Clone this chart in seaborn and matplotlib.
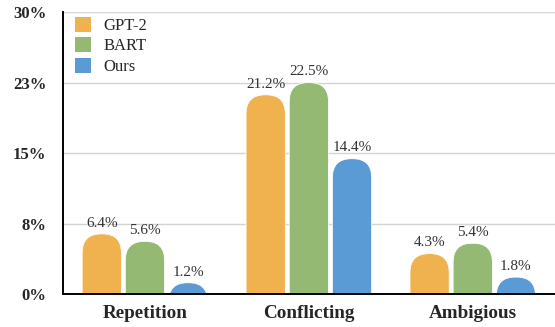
import matplotlib
matplotlib.use("Agg")
import matplotlib.pyplot as plt
from matplotlib.patches import FancyBboxPatch, Patch
import seaborn as sns
import pandas as pd

categories = ["Repetition", "Conflicting", "Ambigious"]
models = ["GPT-2", "BART", "Ours"]
gpt2 = [6.4, 21.2, 4.3]
bart = [5.6, 22.5, 5.4]
ours = [1.2, 14.4, 1.8]
ytick_values = [0, 7.5, 15, 22.5, 30]
ytick_labels = ["0%", "8%", "15%", "23%", "30%"]
colors = ["#F0B24F", "#93B973", "#5A9BD5"]

rows = []
for model, vals in zip(models, [gpt2, bart, ours]):
    for cat, v in zip(categories, vals):
        rows.append({"category": cat, "model": model, "value": v})
df = pd.DataFrame(rows)

sns.set_style("white")
plt.rcParams["font.family"] = ["Liberation Serif", "DejaVu Serif"]

fig = plt.figure(figsize=(5.55, 3.27), dpi=100)
ax = fig.add_axes([0.1135, 0.1009, 0.886, 0.862])

sns.barplot(data=df, x="category", y="value", hue="model", order=categories,
            hue_order=models, palette=colors, saturation=1, width=0.79,
            gap=0.09, errorbar=None, legend=False, ax=ax)

ax.set_xlim(-0.5, 2.5)
ax.set_ylim(0, 30)
ax.set_yticks(ytick_values)
ax.set_yticklabels(ytick_labels)
ax.yaxis.grid(True, color="#d4d4d4", linewidth=1.0)
ax.set_axisbelow(True)
for side in ["top", "right"]:
    ax.spines[side].set_visible(False)
for side in ["left", "bottom"]:
    ax.spines[side].set_color("black")
    ax.spines[side].set_linewidth(1.4)
ax.tick_params(axis="y", length=0, pad=12, labelsize=12)
ax.tick_params(axis="x", length=0, pad=8, labelsize=13.8)
for lab in ax.get_yticklabels() + ax.get_xticklabels():
    lab.set_fontweight("bold")
ax.set_xlabel("")
ax.set_ylabel("")

# Replace the square bars with round-topped ones
fig.canvas.draw()
bbox = ax.get_window_extent()
x_per_px = 3.0 / bbox.width
y_per_px = 30.0 / bbox.height
radius_px = 19
r_x = radius_px * x_per_px
aspect = y_per_px / x_per_px

for patch in list(ax.patches):
    x0 = patch.get_x()
    w = patch.get_width()
    h = patch.get_height()
    fc = patch.get_facecolor()
    patch.set_visible(False)
    extra = 5.0
    box = FancyBboxPatch((x0, -extra), w, h + extra,
                         boxstyle=f"round,pad=0,rounding_size={r_x}",
                         mutation_aspect=aspect, facecolor=fc,
                         edgecolor="white", linewidth=0.6, zorder=2)
    ax.add_patch(box)
    ax.text(x0 + w / 2, h + 0.45, f"{h:.1f}%", ha="center", va="bottom",
            fontsize=11, color="#333333", zorder=3)

handles = [Patch(facecolor=c, edgecolor="none") for c in colors]
ax.legend(handles, models, loc="upper left", bbox_to_anchor=(0.0, 1.025),
          frameon=False, fontsize=12, handlelength=1.0, handleheight=1.0,
          handletextpad=0.75, labelspacing=0.2, borderaxespad=0.3)

fig.savefig("out.png", dpi=100)
